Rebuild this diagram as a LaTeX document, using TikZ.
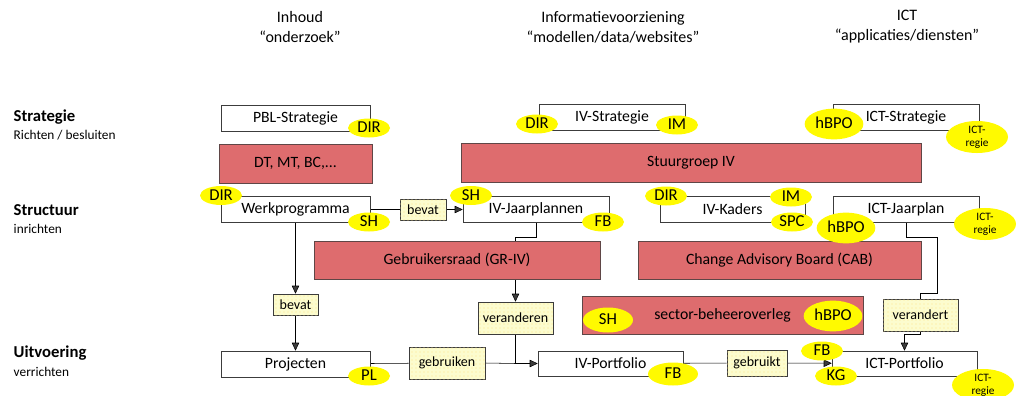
\documentclass[tikz,border=0pt]{standalone}
\usepackage{fontspec}
\setmainfont{Carlito}
\usetikzlibrary{arrows.meta, shapes, positioning, backgrounds, patterns}
\definecolor{boardred}{RGB}{222,108,110}
\definecolor{boardline}{RGB}{95,70,70}
\definecolor{tagyellow}{RGB}{255,250,0}
\definecolor{relyellow}{RGB}{252,252,206}
\definecolor{linegray}{RGB}{60,60,60}

\begin{document}
\begin{tikzpicture}[x=0.75pt, y=-0.75pt, font=\fontsize{11.8}{13}\selectfont, >={Triangle[length=6pt, width=5.5pt]},
	box/.style = {draw=linegray, fill=white, inner sep=0pt, minimum height=19.5pt},
	board/.style = {draw=boardline, fill=boardred, inner sep=0pt, minimum height=28.5pt},
	tag/.style = {ellipse, fill=tagyellow, inner sep=0pt, text height=7pt, text depth=0pt, minimum width=31.5pt, minimum height=14.25pt, font=\fontsize{12.5}{13}\selectfont},
	bigtag/.style = {tag, minimum width=44pt, minimum height=23pt},
	regie/.style = {tag, minimum width=46.5pt, minimum height=24pt, text height=, text depth=, align=center, font=\fontsize{8.5}{10}\selectfont},
	rel/.style = {draw=linegray, fill=relyellow, postaction={pattern=dots, pattern color=yellow!55!orange!45}, inner sep=0pt, font=\fontsize{10.5}{11}\selectfont},
	head/.style = {align=center, font=\fontsize{12}{15}\selectfont},
	level/.style = {anchor=west, align=left, font=\fontsize{10}{14}\selectfont}]
	\useasboundingbox (0,0) rectangle (1032,396);

	\node[head] (inhoud) at (300,27) {Inhoud\\``onderzoek''};
	\node[head] (iv) at (613,27) {Informatievoorziening\\``modellen/data/websites''};
	\node[head] (ict) at (907,27) {ICT\\``applicaties/diensten''};

	\node[level] (strategie) at (9,125) {\textbf{\fontsize{12.5}{14}\selectfont Strategie}\\Richten / besluiten};
	\node[level] (structuur) at (9,219) {\textbf{\fontsize{12.5}{14}\selectfont Structuur}\\inrichten};
	\node[level] (uitvoering) at (9,361) {\textbf{\fontsize{12.5}{14}\selectfont Uitvoering}\\verrichten};

	\node[box, minimum width=111.75pt] (pblstrat) at (295.5,118) {PBL-Strategie};
	\node[board, minimum width=114.75pt, minimum height=29.25pt] (dtmt) at (295.5,163.5) {DT, MT, BC,...};
	\node[box, minimum width=111.75pt] (werkprog) at (295.5,209.5) {Werkprogramma};
	\node[box, minimum width=111.75pt] (projecten) at (295.5,364) {Projecten};

	\node[box, minimum width=109.5pt] (ivstrat) at (612,117.5) {IV-Strategie};
	\node[board, minimum width=345pt, minimum height=29.25pt] (stuurgroep) at (691,163) {Stuurgroep IV};
	\node[box, minimum width=109.5pt] (ivjaar) at (536,209.5) {IV-Jaarplannen};
	\node[box, minimum width=108.75pt] (ivkaders) at (732.5,209.5) {IV-Kaders};
	\node[board, minimum width=214.5pt] (gebruikersraad) at (457,260) {Gebruikersraad (GR-IV)};
	\node[board, minimum width=212.25pt] (cab) at (779.5,260) {Change Advisory Board (CAB)};
	\node[board, minimum width=210.75pt] (sector) at (722.5,315) {sector-beheeroverleg};
	\node[box, minimum width=108.75pt, minimum height=18.75pt] (ivport) at (610.5,363.5) {IV-Portfolio};

	\node[box, minimum width=109.5pt] (ictstrat) at (906,117.5) {ICT-Strategie};
	\node[box, minimum width=109.5pt] (ictjaar) at (906,209.5) {ICT-Jaarplan};
	\node[box, minimum width=108.75pt, minimum height=18.75pt] (ictport) at (904.5,363.5) {ICT-Portfolio};

	\node[rel, minimum width=34.5pt, minimum height=15.75pt] (bevatA) at (423,209.5) {bevat};
	\node[rel, minimum width=33.75pt, minimum height=15.75pt] (bevatB) at (295.5,304.5) {bevat};
	\node[rel, minimum width=57pt, minimum height=24pt] (gebruiken) at (447,363) {gebruiken};
	\node[rel, minimum width=56.25pt, minimum height=24pt] (veranderen) at (515.5,318) {veranderen};
	\node[rel, minimum width=45pt, minimum height=19.5pt] (gebruikt) at (757,363) {gebruikt};
	\node[rel, minimum width=56.25pt, minimum height=24pt] (verandert) at (920.5,315) {verandert};

	\coordinate (ivknik) at (515.5,237);
	\coordinate (ictknikA) at (937,237);
	\coordinate (ictknikB) at (937,293);

	\begin{scope}[on background layer, draw=linegray, line width=0.6pt]
		\draw (werkprog) -- (bevatA);
		\draw[->] (bevatA) -- (ivjaar);
		\draw[->] (werkprog) -- (bevatB);
		\draw[->] (bevatB) -- (projecten);
		\draw (projecten) -- (gebruiken);
		\draw (gebruiken.east) -- (veranderen.south |- ivport.west);
		\draw[->] (ivjaar.south) |- (ivknik) -- (veranderen.north);
		\draw[->] (veranderen.south) |- (ivport.west);
		\draw (ivport) -- (gebruikt);
		\draw[->] (gebruikt) -- (ictport);
		\draw (ictjaar.south) |- (ictknikA) -- (ictknikB) -| (verandert.north);
		\draw[->] (verandert.south) -- ++(0,3) -| (ictport.north);
	\end{scope}

	\node[tag] (pbldir) at (369,128) {DIR};
	\node[tag] (werkdir) at (221,195.5) {DIR};
	\node[tag] (werksh) at (369,222) {SH};
	\node[tag] (projpl) at (369,376) {PL};
	\node[tag] (ivjaarsh) at (471,195.5) {SH};
	\node[tag] (ivjaarfb) at (603,222) {FB};
	\node[tag] (ivstratdir) at (537,124) {DIR};
	\node[tag] (ivstratim) at (677,125) {IM};
	\node[tag] (kadersdir) at (666,196) {DIR};
	\node[tag] (kadersim) at (791,197) {IM};
	\node[tag] (kadersspc) at (792,222) {SPC};
	\node[bigtag] (ictstrathbpo) at (834,124) {hBPO};
	\node[regie] (ictstratregie) at (977,137) {ICT-\\regie};
	\node[bigtag] (ictjaarhbpo) at (846,228) {hBPO};
	\node[regie] (ictjaarregie) at (985,224) {ICT-\\regie};
	\node[tag, minimum width=37.5pt, minimum height=18.75pt] (sectorsh) at (608,320) {SH};
	\node[bigtag] (sectorhbpo) at (833,316) {hBPO};
	\node[tag, minimum width=37.5pt, minimum height=17.25pt] (ivportfb) at (673,374) {FB};
	\node[tag] (ictportfb) at (822,351) {FB};
	\node[tag] (ictportkg) at (836,376) {KG};
	\node[regie] (ictportregie) at (983,385) {ICT-\\regie};
\end{tikzpicture}
\end{document}
